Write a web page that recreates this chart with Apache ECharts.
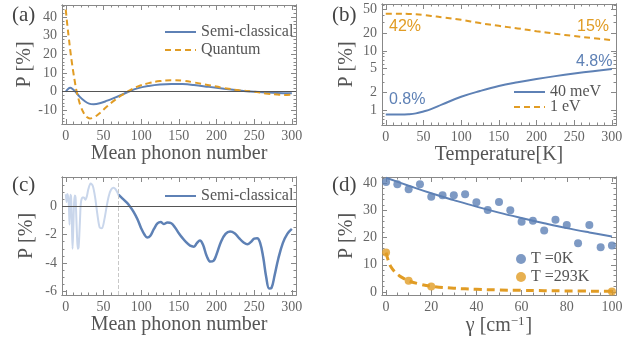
<!DOCTYPE html>
<html>
<head>
<meta charset="utf-8">
<script src="https://cdn.jsdelivr.net/npm/echarts@6/dist/echarts.min.js"></script>
<style>
  html, body { margin: 0; padding: 0; background: #fff; }
  #chart { width: 639px; height: 339px; }
</style>
</head>
<body>
<div id="chart"></div>
<script>
// (a) polarization vs mean phonon number
const aSemiN = [0, 3, 6, 9, 13, 18, 25, 31, 37, 45, 55, 65, 75, 83, 95, 110, 125, 140, 155, 170, 190, 210, 230, 250, 265, 280, 300];
const aSemiP = [0, 1.5, 2.1, 1.5, 0, -2.5, -5, -6.4, -6.7, -6.2, -4.8, -3.2, -1.5, 0, 1.8, 3.1, 3.9, 4.2, 4.1, 3.6, 2.6, 1.6, 0.7, 0, -0.4, -0.7, -0.8];
const aQuantN = [0, 2, 4, 6, 8, 10, 12, 14, 17, 20, 24, 28, 32, 37, 44, 55, 65, 75, 82, 95, 110, 125, 140, 155, 170, 190, 210, 230, 250, 265, 280, 290, 300];
const aQuantP = [44, 36, 29, 22, 16, 10.5, 5.5, 1, -4, -8, -11.5, -13.6, -14.3, -13.8, -11.8, -7.8, -4.5, -1.7, 0, 2.7, 4.6, 5.7, 6.1, 5.9, 5.0, 3.5, 2.0, 0.8, 0, -0.9, -1.5, -1.7, -1.5];

// (b) polarization vs temperature (log scale)
const bT = [0, 10, 20, 30, 40, 50, 60, 75, 100, 125, 150, 175, 200, 225, 250, 275, 300];
const bLowP = [0.84, 0.84, 0.84, 0.85, 0.88, 0.95, 1.04, 1.25, 1.68, 2.1, 2.55, 2.95, 3.35, 3.75, 4.15, 4.55, 4.95];
const bHighP = [42.5, 42.5, 42.4, 42.2, 41.6, 40.5, 39, 37, 33.5, 29.5, 26.5, 24, 21.5, 19.5, 17.8, 16.4, 15.2];

// (c) semi-classical, faint part below n = 70
const cFaintN = [0, 1, 2, 3, 4, 5, 6, 7, 8, 9, 10, 11, 12, 13, 14, 15, 16, 17, 18, 19, 20, 22, 24, 26, 28, 30, 33, 36, 39, 42, 45, 48, 51, 54, 57, 60, 63, 66, 70];
const cFaintP = [0.85, 0.3, 0.85, 0.7, 0.2, -1.3, 0.8, 0.7, -1.0, -3.0, -1.5, 0.2, 0.75, 0.6, -0.8, -2.2, -3.0, -2.9, -2.0, -0.8, 0.2, 0.6, 0.6, 0.45, 0.7, 1.2, 1.6, 1.4, 0.6, -0.6, -1.5, -1.55, -1.0, -0.1, 0.7, 1.15, 1.3, 1.2, 0.8];
const cSemiN = [70, 75, 80, 85, 90, 95, 100, 105, 108, 112, 117, 122, 126, 130, 135, 140, 145, 150, 155, 160, 165, 170, 174, 178, 182, 187, 192, 196, 200, 206, 212, 218, 224, 230, 236, 241, 246, 250, 254, 258, 262, 266, 270, 273, 277, 282, 288, 294, 300];
const cSemiP = [0.8, 0.55, 0.3, 0.0, -0.4, -0.9, -1.55, -2.05, -2.2, -2.1, -1.6, -1.2, -1.12, -1.25, -1.15, -1.2, -1.5, -1.9, -2.25, -2.55, -2.78, -2.85, -2.6, -2.42, -2.7, -3.5, -3.9, -3.85, -3.4, -2.5, -1.95, -1.78, -1.9, -2.25, -2.55, -2.68, -2.5, -2.28, -2.25, -2.6, -3.6, -5.0, -5.8, -5.75, -4.9, -3.7, -2.6, -1.95, -1.6];

// (d) polarization vs gamma
const dGamma = [0, 5, 10, 15, 20, 25, 30, 35, 40, 45, 50, 55, 60, 65, 70, 75, 80, 85, 90, 95, 100];
const dColdP = [40.5, 39.6, 37.8, 39.6, 35.0, 35.6, 35.6, 36.0, 33.0, 30.2, 33.1, 30.1, 25.8, 26.2, 22.6, 26.6, 24.6, 17.9, 24.6, 16.5, 17.1];
const dFitG = [0, 10, 20, 30, 40, 50, 60, 70, 80, 90, 100];
const dFitP = [42, 39.1, 36.3, 33.8, 31.4, 29.2, 27.2, 25.3, 23.5, 21.9, 20.4];
const dHotG = [0, 10, 20, 100];
const dHotP = [14.5, 4.1, 2.0, 0.2];
const dHotCurveG = [0, 1, 2, 4, 6, 8, 10, 15, 20, 30, 40, 50, 60, 80, 100];
const dHotCurveP = [14.5, 11.5, 9.5, 7.3, 5.9, 4.9, 4.1, 2.9, 2.1, 1.4, 1.0, 0.75, 0.6, 0.4, 0.25];

const BLUE = '#5e81b5';
const ORANGE = '#e19c24';
const FAINT = '#c9d6eb';
const FRAME = '#888';
const LABEL = '#666';
const SERIF = 'Liberation Serif';

const zip = (xs, ys) => xs.map((x, i) => [x, ys[i]]);
const steps = (from, to, step) => {
  const out = [];
  for (let v = from; v <= to + 1e-9; v += step) out.push(+v.toFixed(6));
  return out;
};

// one frame side = labelled axis + plain opposite axis + minor ticks on both
function frameAxes(grid, pos, opt) {
  const opp = { bottom: 'top', top: 'bottom', left: 'right', right: 'left' }[pos];
  const base = () => {
    const b = { gridIndex: grid, type: opt.type || 'value', min: opt.min, max: opt.max, splitLine: { show: false } };
    if (opt.type === 'log') b.logBase = 10;
    return b;
  };
  const line = () => ({ show: true, onZero: false, lineStyle: { color: FRAME, width: 1 } });
  const tick = (vals, len) => ({ show: true, inside: true, length: len, customValues: vals, lineStyle: { color: FRAME, width: 1 } });
  return [
    Object.assign(base(), {
      position: pos,
      name: opt.name,
      nameLocation: 'middle',
      nameGap: opt.nameGap,
      nameTextStyle: Object.assign({ fontFamily: SERIF, fontSize: 20, color: '#555' }, opt.nameStyle || {}),
      axisLine: line(),
      axisTick: tick(opt.major, 5),
      axisLabel: { show: true, customValues: opt.labels || opt.major, color: LABEL, fontFamily: SERIF, fontSize: 14, margin: 5 }
    }),
    Object.assign(base(), { position: opp, axisLine: line(), axisTick: tick(opt.major, 5), axisLabel: { show: false } }),
    Object.assign(base(), { position: pos, axisLine: line(), axisTick: tick(opt.minor, 2.5), axisLabel: { show: false } }),
    Object.assign(base(), { position: opp, axisLine: line(), axisTick: tick(opt.minor, 2.5), axisLabel: { show: false } })
  ];
}

const nX = () => ({ min: -5, max: 305.5, major: steps(0, 300, 50), minor: steps(0, 300, 10) });
const xAxes = [
  ...frameAxes(0, 'bottom', Object.assign(nX(), { name: 'Mean phonon number', nameGap: 19 })),
  ...frameAxes(1, 'bottom', Object.assign(nX(), { name: 'Temperature[K]', nameGap: 19 })),
  ...frameAxes(2, 'bottom', Object.assign(nX(), { name: 'Mean phonon number', nameGap: 19 })),
  ...frameAxes(3, 'bottom', {
    min: -1.8, max: 101.8, major: steps(0, 100, 20), minor: steps(0, 100, 5),
    name: '{t|γ [cm}{s|−1}{t|]}', nameGap: 17,
    nameStyle: { rich: { t: { fontFamily: SERIF, fontSize: 20, color: '#555' }, s: { fontFamily: SERIF, fontSize: 13, color: '#555', verticalAlign: 'top', padding: [0, 1, 8, 0] } } }
  })
];
const yAxes = [
  ...frameAxes(0, 'left', { min: -17.3, max: 46.5, major: steps(-10, 40, 10), minor: steps(-16, 46, 2), name: 'P [%]', nameGap: 25 }),
  ...frameAxes(1, 'left', {
    type: 'log', min: 0.56, max: 62, major: [1, 2, 5, 10, 20, 50],
    minor: [0.6, 0.7, 0.8, 0.9, 3, 4, 6, 7, 8, 9, 30, 40, 60], name: 'P [%]', nameGap: 25
  }),
  ...frameAxes(2, 'left', { min: -6.25, max: 2.05, major: steps(-6, 0, 2), minor: steps(-6, 2, 0.5), name: 'P [%]', nameGap: 25 }),
  ...frameAxes(3, 'left', { min: -1.1, max: 42.3, major: steps(0, 40, 10), minor: steps(0, 42, 2), name: 'P [%]', nameGap: 25 })
];

const zeroLine = {
  silent: true, symbol: ['none', 'none'], label: { show: false }, animation: false,
  lineStyle: { color: '#555', width: 1, type: 'solid' }, data: [{ yAxis: 0 }]
};

const lineSeries = (name, grid, data, color, width, type, extra) => Object.assign({
  name, type: 'line', xAxisIndex: grid * 4, yAxisIndex: grid * 4, data,
  smooth: 0.4, symbol: 'none', animation: false,
  lineStyle: { color, width, type }, itemStyle: { color }
}, extra || {});

const series = [
  lineSeries('Semi-classical', 0, zip(aSemiN, aSemiP), BLUE, 2, 'solid', { markLine: zeroLine }),
  lineSeries('Quantum', 0, zip(aQuantN, aQuantP), ORANGE, 2, [6, 4]),
  lineSeries('40 meV', 1, zip(bT, bLowP), BLUE, 2, 'solid'),
  lineSeries('1 eV', 1, zip(bT, bHighP), ORANGE, 2, [6, 4]),
  lineSeries('faint', 2, zip(cFaintN, cFaintP), FAINT, 2, 'solid', {
    smooth: 0.3,
    markLine: {
      silent: true, symbol: ['none', 'none'], label: { show: false }, animation: false,
      data: [
        { yAxis: 0, lineStyle: { color: '#555', width: 1, type: 'solid' } },
        { xAxis: 70, lineStyle: { color: '#c8c8c8', width: 1, type: [4, 2] } }
      ]
    }
  }),
  lineSeries('Semi-classical', 2, zip(cSemiN, cSemiP), BLUE, 2.5, 'solid'),
  lineSeries('fit', 3, zip(dFitG, dFitP), BLUE, 2, 'solid'),
  lineSeries('hotfit', 3, zip(dHotCurveG, dHotCurveP), ORANGE, 3, [8, 5]),
  { name: 'T =0K', type: 'scatter', xAxisIndex: 12, yAxisIndex: 12, data: zip(dGamma, dColdP), symbolSize: 8, itemStyle: { color: BLUE }, animation: false },
  { name: 'T =293K', type: 'scatter', xAxisIndex: 12, yAxisIndex: 12, data: zip(dHotG, dHotP), symbolSize: 8, itemStyle: { color: ORANGE }, animation: false }
];

const legendText = { fontFamily: SERIF, fontSize: 16, color: '#555' };
const lineLegend = () => ({ orient: 'vertical', itemWidth: 31, itemHeight: 14, selectedMode: false, textStyle: legendText, itemStyle: { opacity: 0 } });
const legend = [
  Object.assign(lineLegend(), { data: ['Semi-classical', 'Quantum'], left: 159, top: 19, itemGap: 2 }),
  Object.assign(lineLegend(), { data: ['40 meV', '1 eV'], left: 508, top: 79, itemGap: -1 }),
  Object.assign(lineLegend(), { data: ['Semi-classical'], left: 159, top: 183 }),
  { data: ['T =0K', 'T =293K'], left: 511, top: 246, orient: 'vertical', itemWidth: 10, itemHeight: 10, itemGap: 2, icon: 'circle', selectedMode: false, textStyle: legendText }
];

const panelLabel = (text, x, y) => ({
  type: 'text', left: x, top: y, silent: true,
  style: { text, font: '21px "Liberation Serif"', fill: '#444' }
});
const note = (text, x, y, color) => ({
  type: 'text', left: x, top: y, silent: true,
  style: { text, font: '16px "Liberation Sans"', fill: color }
});

const chart = echarts.init(document.getElementById('chart'), null, { renderer: 'canvas' });
chart.setOption({
  animation: false,
  backgroundColor: '#fff',
  grid: [
    { left: 62, top: 5, width: 234, height: 119 },
    { left: 382, top: 4, width: 234, height: 121 },
    { left: 62, top: 177, width: 234, height: 118 },
    { left: 382, top: 177, width: 234, height: 118 }
  ],
  xAxis: xAxes,
  yAxis: yAxes,
  legend,
  series,
  graphic: [
    panelLabel('(a)', 12, 5),
    panelLabel('(b)', 332, 5),
    panelLabel('(c)', 12, 175),
    panelLabel('(d)', 332, 175),
    note('42%', 389, 19, ORANGE),
    note('15%', 577, 19, ORANGE),
    note('4.8%', 576, 54, BLUE),
    note('0.8%', 389, 92, BLUE)
  ]
});
</script>
</body>
</html>
